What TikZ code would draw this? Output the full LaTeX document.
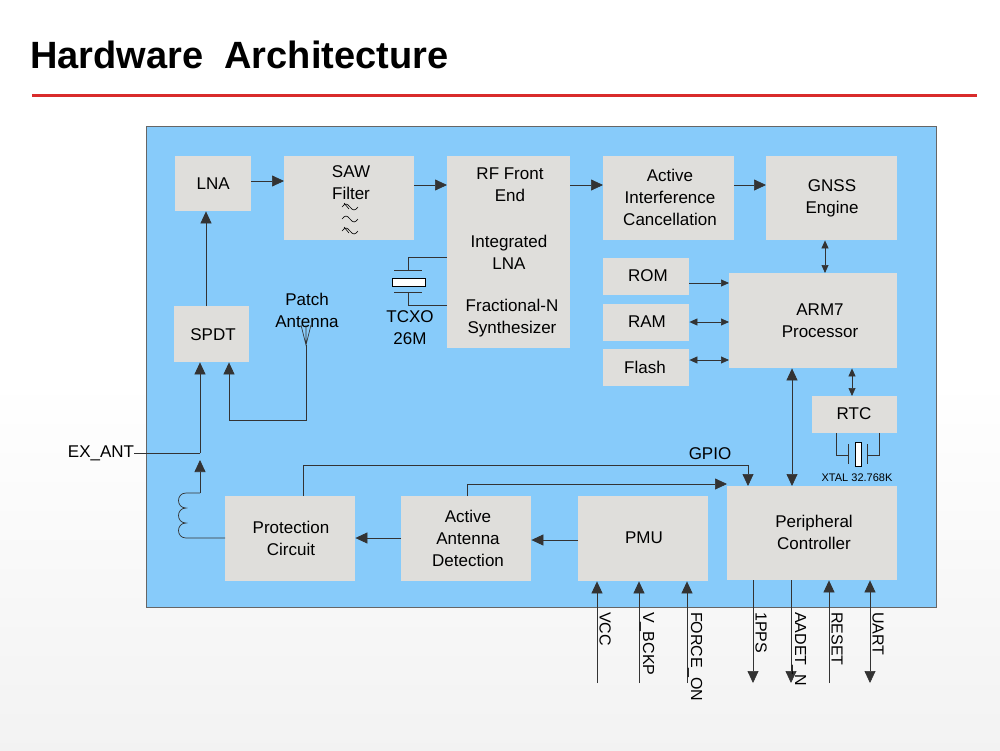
\documentclass[tikz,border=0pt]{standalone}
\usepackage{fontspec}
\setmainfont{Liberation Sans}
\usetikzlibrary{arrows.meta}
\definecolor{panel}{HTML}{87CBFA}
\definecolor{boxc}{HTML}{DFDEDB}
\definecolor{titlered}{HTML}{D92B2B}
\begin{document}
\begin{tikzpicture}[x=1pt,y=-1pt,
  blk/.style={fill=boxc,draw=none},
  ln/.style={draw=black!80,line width=0.7pt},
  a/.style={ln,-{Triangle[length=12pt,width=11pt]}},
  ab/.style={ln,{Triangle[length=12pt,width=11pt]}-{Triangle[length=12pt,width=11pt]}},
  s/.style={ln,-{Triangle[length=8pt,width=7pt]}},
  sb/.style={ln,{Triangle[length=8pt,width=7pt]}-{Triangle[length=8pt,width=7pt]}},
  lab/.style={font=\fontsize{17}{22}\selectfont,align=center,inner sep=0pt},
  pin/.style={font=\fontsize{16}{18}\selectfont,rotate=-90,anchor=west,inner sep=0pt}]
\useasboundingbox (0,0) rectangle (1000,750);
\fill[white] (0,0) rectangle (1000,380);
\shade[top color=white,bottom color=black!5] (0,380) rectangle (1000,750);
\node[anchor=base west,inner sep=0pt,font=\fontsize{38}{44}\selectfont\bfseries] (title) at (30,68) {Hardware\ \ Architecture};
\draw[titlered,line width=3pt] (32,95) -- (977,95);
\draw[fill=panel,draw=black!60,line width=0.6pt] (146,126) rectangle (936,607);
% blocks
\path
 (175,156) node[blk,anchor=north west,minimum width=76,minimum height=55] (lna) {}
 (284,156) node[blk,anchor=north west,minimum width=130,minimum height=84] (saw) {}
 (447,156) node[blk,anchor=north west,minimum width=123,minimum height=192] (rf) {}
 (603,156) node[blk,anchor=north west,minimum width=131,minimum height=84] (aic) {}
 (766,156) node[blk,anchor=north west,minimum width=131,minimum height=84] (gnss) {}
 (603,258) node[blk,anchor=north west,minimum width=86,minimum height=37] (rom) {}
 (603,304) node[blk,anchor=north west,minimum width=86,minimum height=37] (ram) {}
 (603,349) node[blk,anchor=north west,minimum width=86,minimum height=37] (flash) {}
 (729,273) node[blk,anchor=north west,minimum width=168,minimum height=95] (arm) {}
 (812,396) node[blk,anchor=north west,minimum width=85,minimum height=37] (rtc) {}
 (174,306) node[blk,anchor=north west,minimum width=75,minimum height=56] (spdt) {}
 (225,496) node[blk,anchor=north west,minimum width=130,minimum height=85] (prot) {}
 (401,496) node[blk,anchor=north west,minimum width=130,minimum height=85] (aad) {}
 (578,496) node[blk,anchor=north west,minimum width=130,minimum height=85] (pmu) {}
 (727,486) node[blk,anchor=north west,minimum width=170,minimum height=94] (per) {};
% texts
\node[lab] at (lna.center) {LNA};
\node[lab] at (351,183) {SAW\\Filter};
\node[lab] at (510,185) {RF Front\\End};
\node[lab] at (509,252) {Integrated\\LNA};
\node[lab] at (512,318) {Fractional-N\\Synthesizer};
\node[lab] at (670,197) {Active\\Interference\\Cancellation};
\node[lab] at (832,198) {GNSS\\Engine};
\node[lab] at (648,276) {ROM};
\node[lab] at (647,322) {RAM};
\node[lab] at (645,367) {Flash};
\node[lab] at (820,321) {ARM7\\Processor};
\node[lab] at (854,414) {RTC};
\node[lab] at (213,335) {SPDT};
\node[lab] at (291,538) {Protection\\Circuit};
\node[lab] at (468,538) {Active\\Antenna\\Detection};
\node[lab] at (644,538) {PMU};
\node[lab] at (814,532) {Peripheral\\Controller};
\node[lab] (patch) at (307,310) {Patch\\Antenna};
\node[lab] (tcxo) at (410,328) {TCXO\\26M};
\node[lab] (gpio) at (710,454) {GPIO};
\node[lab] (exant) at (101,453) {EX\_ANT};
\node[inner sep=0pt,font=\fontsize{11}{12}\selectfont] (xtal) at (857,478) {XTAL 32.768K};
% SAW symbols
\foreach \yy in {207,219,231}{\draw[line width=0.6pt] (342,\yy) sin (346,\yy-3) cos (350,\yy) sin (354,\yy+3) cos (358,\yy);}
\draw[line width=0.6pt] (344,203)--(349,209) (344,227)--(349,233);
% main chain
\draw[a] (lna.east |- 0,181) -- (saw.west |- 0,181);
\draw[a] (saw.east |- 0,185) -- (rf.west |- 0,185);
\draw[a] (rf.east |- 0,185) -- (aic.west |- 0,185);
\draw[a] (aic.east |- 0,185) -- (gnss.west |- 0,185);
\draw[sb] (gnss.south -| 825,0) -- (arm.north -| 825,0);
\draw[s] (rom.east |- 0,283) -- (arm.west |- 0,283);
\draw[sb] (ram.east |- 0,322) -- (arm.west |- 0,322);
\draw[sb] (flash.east |- 0,360) -- (arm.west |- 0,360);
\draw[sb] (arm.south -| 852,0) -- (rtc.north -| 852,0);
\draw[ab] (arm.south -| 792,0) -- (per.north -| 792,0);
\draw[a] (spdt.north -| 206,0) -- (lna.south -| 206,0);
% TCXO
\draw[ln,line width=1pt] (rf.west |- 0,257) -- (408,257) -- (408,270) (394,270)--(422,270)
  (rf.west |- 0,305) -- (408,305) -- (408,292) (394,292)--(422,292);
\draw[line width=1pt,fill=white] (392,278) rectangle (425,286);
% antenna paths
\draw[a] (306,345) -- (306,420) -- (229,420) -- (spdt.south -| 229,0);
\draw[ln] (306,325) -- (306,345) (301,325) -- (306,345) -- (311,325);
\coordinate (j) at (200,453);
\draw[ln] (exant.east) -- (j);
\draw[a] (j) -- (spdt.south -| 200,0);
\draw[a] (200,493) -- (200,460);
\draw[ln] (200,493) -- (186,493)
  .. controls (176,493) and (176,508) .. (186,508)
  .. controls (176,508) and (176,523) .. (186,523)
  .. controls (176,523) and (176,538) .. (186,538)
  -- (prot.west |- 0,538);
% bottom chain
\draw[a] (pmu.west |- 0,540) -- (aad.east |- 0,540);
\draw[a] (aad.west |- 0,538) -- (prot.east |- 0,538);
\draw[a] (prot.north -| 303,0) -- (303,465) -- (748,465) -- (per.north -| 748,0);
\draw[a] (aad.north -| 467,0) -- (467,484) -- (per.west |- 0,484);
% RTC crystal
\draw[ln,line width=1pt] (rtc.south -| 836,0) -- (836,455) -- (848,455) (848,444)--(848,464)
  (rtc.south -| 879,0) -- (879,455) -- (867,455) (867,444)--(867,464);
\draw[line width=1pt,fill=white] (855,442) rectangle (861,466);
% pins
\foreach \x/\t/\n in {597/VCC/vcc,639/V\_BCKP/vb,687/FORCE\_ON/fo}{
  \coordinate (\n) at (\x,683);
  \draw[a] (\n) -- (pmu.south -| \x,0);
  \node[pin] at (\x+8,612) {\t};}
\foreach \x/\t/\n in {753/1PPS/pps,791/AADET\_N/aadet}{
  \coordinate (\n) at (\x,683);
  \draw[a] (per.south -| \x,0) -- (\n);
  \node[pin] at (\x+8,612) {\t};}
\coordinate (rst) at (829,683);
\draw[a] (rst) -- (per.south -| 829,0);
\node[pin] at (837,612) {RESET};
\coordinate (uart) at (870,683);
\draw[ab] (per.south -| 870,0) -- (uart);
\node[pin] at (878,612) {UART};
\end{tikzpicture}
\end{document}
